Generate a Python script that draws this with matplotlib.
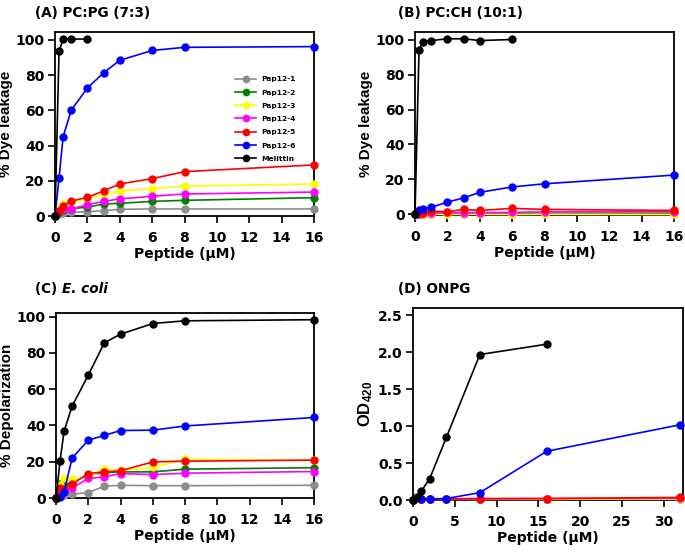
import matplotlib
matplotlib.use("Agg")
import matplotlib.pyplot as plt

plt.rcParams['font.family'] = ['DejaVu Sans']
plt.rcParams['font.weight'] = 'bold'
plt.rcParams['mathtext.default'] = 'regular'

names = ['Pap12-1', 'Pap12-2', 'Pap12-3', 'Pap12-4', 'Pap12-5', 'Pap12-6', 'Melittin']
colors = ['#8c8c8c', '#008000', '#ffff00', '#ff00ff', '#ff0000', '#0000ff', '#000000']

# Panel A: PC:PG (7:3)
xA = [0, 0.25, 0.5, 1, 2, 3, 4, 6, 8, 16]
xA_mel = [0, 0.25, 0.5, 1, 2]
A_pap1 = [0, 1.3, 1.7, 2.0, 2.5, 3.0, 3.8, 4.0, 4.0, 4.0]
A_pap2 = [0, 2.0, 3.2, 4.2, 5.0, 6.8, 7.2, 8.3, 8.9, 10.4]
A_pap3 = [0, 4.2, 6.8, 8.0, 9.8, 12.0, 14.2, 15.5, 17.0, 18.2]
A_pap4 = [0, 2.8, 4.0, 4.0, 6.4, 8.3, 9.7, 11.2, 12.5, 13.6]
A_pap5 = [0, 2.8, 5.5, 8.5, 10.6, 14.2, 18.2, 21.2, 25.2, 29.0]
A_pap6 = [0, 21.6, 44.9, 60.0, 72.7, 81.3, 88.4, 94.0, 95.8, 96.2]
A_mel = [0, 93.6, 100.4, 100.5, 100.5]

# Panel B: PC:CH (10:1)
xB = [0, 0.25, 0.5, 1, 2, 3, 4, 6, 8, 16]
xB_mel = [0, 0.25, 0.5, 1, 2, 3, 4, 6]
B_pap1 = [0, 0.1, 0.2, 0.2, 0.2, 0.2, 0.3, 0.3, 0.3, 0.3]
B_pap2 = [0, 0.2, 0.3, 0.3, 0.4, 0.3, 0.4, 0.5, 0.4, 0.5]
B_pap3 = [0, 0.0, -0.1, -0.1, -0.1, -0.1, -0.1, -0.2, -0.1, -0.2]
B_pap4 = [0, 0.3, 0.5, 0.8, 1.0, 0.8, 0.9, 1.0, 1.3, 1.5]
B_pap5 = [0, 0.6, 0.8, 1.7, 1.4, 2.7, 2.1, 3.3, 2.7, 2.1]
B_pap6 = [0, 2.5, 2.9, 3.9, 6.9, 9.3, 12.5, 15.6, 17.4, 22.4]
B_mel = [0, 94.2, 99.0, 99.6, 100.6, 100.6, 99.6, 100.2]

# Panel C: E. coli depolarization
xC = [0, 0.25, 0.5, 1, 2, 3, 4, 6, 8, 16]
C_pap1 = [0, 1.3, 1.9, 2.1, 3.0, 6.5, 7.0, 6.8, 6.8, 7.0]
C_pap2 = [0, 7.6, 7.0, 8.5, 12.9, 14.0, 14.4, 14.4, 15.9, 16.7]
C_pap3 = [0, 7.0, 10.8, 10.4, 11.4, 16.1, 15.2, 16.9, 21.3, 20.7]
C_pap4 = [0, 4.7, 4.4, 5.5, 10.8, 11.6, 13.5, 12.9, 13.7, 14.6]
C_pap5 = [0, 5.7, 5.1, 7.6, 13.5, 14.4, 15.0, 19.9, 20.3, 20.9]
C_pap6 = [0, 0.6, 3.4, 22.0, 31.9, 34.5, 37.2, 37.4, 39.7, 44.4]
C_mel = [0, 20.3, 36.8, 50.7, 67.7, 85.6, 90.3, 96.2, 97.7, 98.3]

# Panel D: ONPG
xD = [0, 1, 2, 4, 8, 16, 32]
xD_mel = [0, 0.5, 1, 2, 4, 8, 16]
D_pap1 = [0, 0.01, 0.01, 0.01, 0.01, 0.01, 0.01]
D_pap2 = [0, 0.01, 0.01, 0.01, 0.015, 0.015, 0.02]
D_pap3 = [0, 0.01, 0.01, 0.01, 0.01, 0.01, 0.015]
D_pap4 = [0, 0.01, 0.01, 0.01, 0.015, 0.02, 0.025]
D_pap5 = [0, 0.01, 0.01, 0.015, 0.02, 0.02, 0.035]
D_pap6 = [0, 0.02, 0.015, 0.02, 0.10, 0.66, 1.02]
D_mel = [0, 0.04, 0.12, 0.29, 0.85, 1.97, 2.11]

fig = plt.figure(figsize=(6.85, 5.52), dpi=100)
W, H = 685, 552

def make_ax(l, r, t, b):
    return fig.add_axes([l / W, 1 - b / H, (r - l) / W, (b - t) / H])

axA = make_ax(55, 314, 32, 216)
axB = make_ax(415, 674, 32, 215)
axC = make_ax(56, 314, 313, 498)
axD = make_ax(413, 683, 308, 500)

lw = 1.2
ms = 5

def plot_series(ax, xs, ys_list, cols, labels=None):
    for i, (x, y, c) in enumerate(zip(xs, ys_list, cols)):
        ax.plot(x, y, '-o', color=c, lw=lw, ms=ms, clip_on=False, zorder=3,
                label=labels[i] if labels else None)

def style(ax, xlim, ylim, xticks, yticks, ylabel, yfmt=None):
    ax.set_xlim(*xlim)
    ax.set_ylim(*ylim)
    ax.set_xticks(xticks)
    ax.set_yticks(yticks)
    if yfmt:
        ax.set_yticklabels([yfmt % v for v in yticks])
    ax.tick_params(direction='out', length=5, width=1.2, labelsize=10)
    ax.tick_params(axis='x', pad=5.5)
    ax.tick_params(axis='y', pad=2.5)
    for lab in ax.get_xticklabels() + ax.get_yticklabels():
        lab.set_fontweight('bold')
    for s in ax.spines.values():
        s.set_linewidth(1.3)
    ax.set_xlabel('Peptide (\u03bcM)', fontsize=10, fontweight='bold', labelpad=1.5)
    ax.set_ylabel(ylabel, fontsize=11, fontweight='bold', labelpad=2,
                  family=['Liberation Sans', 'DejaVu Sans'])

xt16 = [0, 2, 4, 6, 8, 10, 12, 14, 16]
yt100 = [0, 20, 40, 60, 80, 100]

plot_series(axA, [xA] * 6 + [xA_mel],
            [A_pap1, A_pap2, A_pap3, A_pap4, A_pap5, A_pap6, A_mel], colors, names)
style(axA, (0, 16), (0, 104.5), xt16, yt100, '% Dye leakage')
leg = axA.legend(loc='upper left', bbox_to_anchor=(0.695, 0.76), frameon=False,
                 prop={'size': 5.4, 'weight': 'bold'}, handlelength=2.8,
                 handletextpad=0.7, labelspacing=0.93, borderpad=0,
                 borderaxespad=0, markerscale=0.9)

plot_series(axB, [xB] * 6 + [xB_mel],
            [B_pap1, B_pap2, B_pap3, B_pap4, B_pap5, B_pap6, B_mel], colors)
style(axB, (0, 16), (-0.5, 104.5), xt16, yt100, '% Dye leakage')

plot_series(axC, [xC] * 7,
            [C_pap1, C_pap2, C_pap3, C_pap4, C_pap5, C_pap6, C_mel], colors)
style(axC, (0, 16), (0, 102), xt16, yt100, '% Depolarization')

plot_series(axD, [xD] * 6 + [xD_mel],
            [D_pap1, D_pap2, D_pap3, D_pap4, D_pap5, D_pap6, D_mel], colors)
style(axD, (0, 32.3), (0, 2.6), [0, 5, 10, 15, 20, 25, 30],
      [0, 0.5, 1.0, 1.5, 2.0, 2.5], r'OD$_{420}$', yfmt='%.1f')
axD.yaxis.label.set_size(12)

tfs = 9.8
fig.text(35 / W, 1 - 13 / H, '(A) PC:PG (7:3)', fontsize=tfs, fontweight='bold', va='center', ha='left')
fig.text(398 / W, 1 - 13 / H, '(B) PC:CH (10:1)', fontsize=tfs, fontweight='bold', va='center', ha='left')
tC = fig.text(35 / W, 1 - 289 / H, '(C) ', fontsize=tfs, fontweight='bold', va='center', ha='left')
fig.canvas.draw()
bb = tC.get_window_extent()
fig.text(bb.x1 / W, 1 - 289 / H, 'E. coli', fontsize=tfs, fontweight='bold', style='italic',
         va='center', ha='left')
fig.text(398 / W, 1 - 289 / H, '(D) ONPG', fontsize=tfs, fontweight='bold', va='center', ha='left')

fig.savefig('out.png', dpi=100)
